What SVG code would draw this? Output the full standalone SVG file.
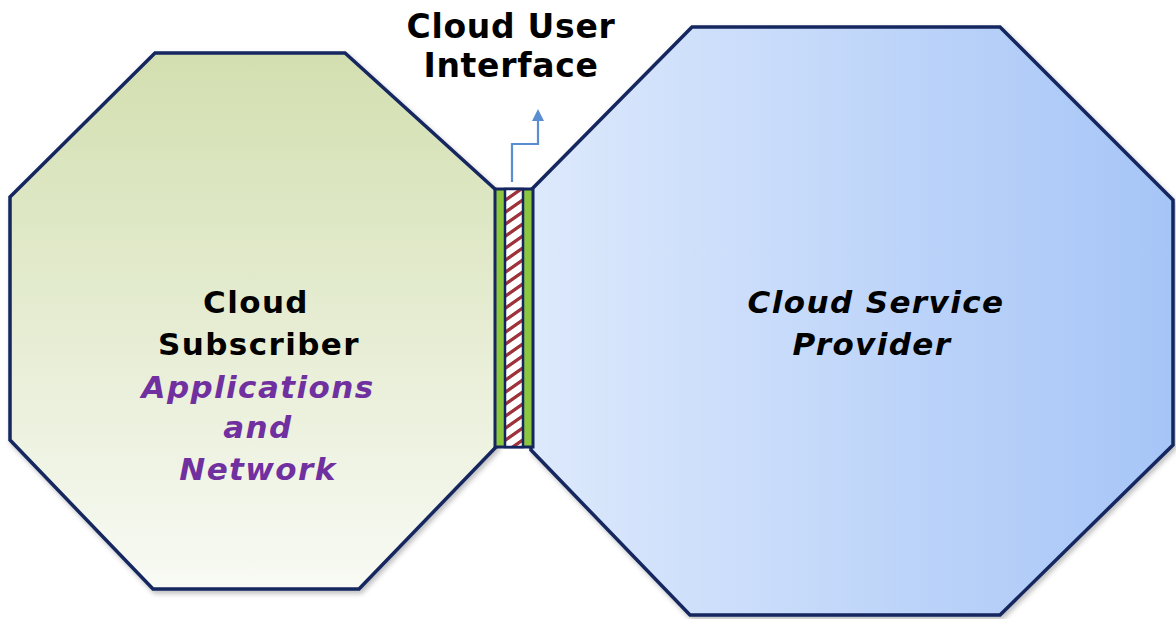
<svg xmlns="http://www.w3.org/2000/svg" width="1176" height="619" viewBox="0 0 1176 619">
<style>
.oct{stroke:#14265f;stroke-width:3.5;stroke-linejoin:miter}
.t{font-family:"DejaVu Sans",Verdana,sans-serif;font-weight:bold;font-size:31px;letter-spacing:1.4px;text-anchor:middle;fill:#000}
.hd{font-size:33px;letter-spacing:0.7px}
.it{font-style:italic}
.pu{fill:#7030a0}
</style>
<defs>
<linearGradient id="gL" x1="0" y1="0" x2="0" y2="1">
<stop offset="0" stop-color="#d3dfb0"/>
<stop offset="1" stop-color="#f8faf4"/>
</linearGradient>
<linearGradient id="gR" x1="0" y1="0" x2="1" y2="0">
<stop offset="0" stop-color="#dde9fc"/>
<stop offset="1" stop-color="#a6c5f7"/>
</linearGradient>
<pattern id="hatch" patternUnits="userSpaceOnUse" width="18" height="12" patternTransform="skewY(-35)">
<rect width="18" height="12" fill="#ffffff"/>
<rect y="0" width="18" height="4" fill="#a0323c"/>
</pattern>
<filter id="sh" x="-5%" y="-5%" width="110%" height="110%">
<feDropShadow dx="2" dy="3" stdDeviation="2.5" flood-color="#000" flood-opacity="0.25"/>
</filter>
<marker id="ah" markerWidth="12" markerHeight="12" refX="0" refY="6" orient="auto" markerUnits="userSpaceOnUse" viewBox="0 0 12 12">
<path d="M0,0 L12,6 L0,12 z" fill="#5b8ed0"/>
</marker>
</defs>
<g id="subscriber">
<polygon class="oct" filter="url(#sh)" fill="url(#gL)" points="155,53 345,53 496,190 496,447 359,589 153,589 10,440 10,197"/>
<text class="t" x="256" y="313">Cloud</text>
<text class="t" x="259" y="355">Subscriber</text>
<text class="t it pu" x="258" y="398">Applications</text>
<text class="t it pu" x="258" y="438">and</text>
<text class="t it pu" x="258" y="480">Network</text>
</g>
<g id="provider">
<polygon class="oct" filter="url(#sh)" fill="url(#gR)" points="692,27 1000,27 1173,200 1173,445 1000,615 690,615 531,450 531,190"/>
<text class="t it" x="876" y="313">Cloud Service</text>
<text class="t it" x="872" y="355">Provider</text>
</g>
<g id="interface">
<rect x="495" y="189" width="38" height="258" fill="#8dc63f" stroke="#14265f" stroke-width="3"/>
<rect x="505" y="189" width="18" height="258" fill="url(#hatch)" stroke="#14265f" stroke-width="2.5"/>
<text class="t hd" x="511" y="38">Cloud User</text>
<text class="t hd" x="511" y="77">Interface</text>
</g>
<g id="connectors">
<polyline points="512,182 512,144 538,144 538,121" fill="none" stroke="#5b8ed0" stroke-width="2.2" marker-end="url(#ah)"/>
</g>
</svg>
